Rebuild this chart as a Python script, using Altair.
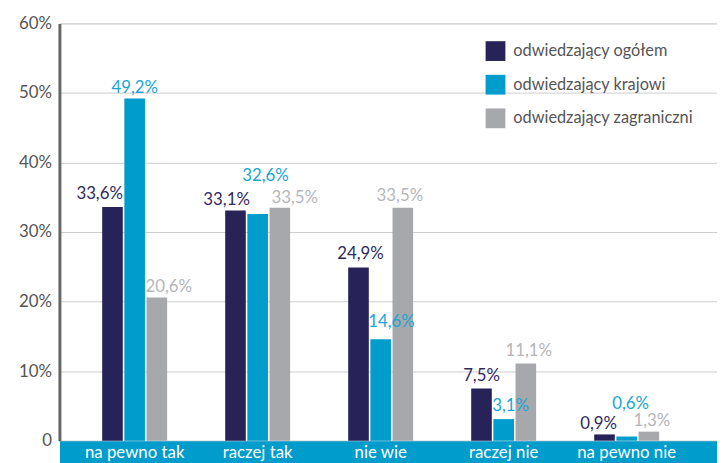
import altair as alt
import pandas as pd

categories = ["na pewno tak", "raczej tak", "nie wie", "raczej nie", "na pewno nie"]
series = ["odwiedzający ogółem", "odwiedzający krajowi", "odwiedzający zagraniczni"]
ogolem = [33.6, 33.1, 24.9, 7.5, 0.9]
krajowi = [49.2, 32.6, 14.6, 3.1, 0.6]
zagraniczni = [20.6, 33.5, 33.5, 11.1, 1.3]
y_ticks = [0, 10, 20, 30, 40, 50, 60]

bar_colors = ["#272257", "#009ccc", "#a7a8ac"]
label_colors = ["#2f2a5e", "#1ba5d5", "#b5b6b9"]

# label nudges in pixels (horizontal shift, gap above bar top)
label_dx = [[-13, -9, 2, 0, -6], [0, 8, 11, 7, 4], [12, 15, -3, 3, 3]]
label_gap = [[8, 6, 9, 8, 5], [6, 33, 12, 8, 28], [5, 5, 7, 8, 6]]

rows = []
for s_i, vals in enumerate([ogolem, krajowi, zagraniczni]):
    for c_i, v in enumerate(vals):
        rows.append({
            "category": categories[c_i],
            "series": series[s_i],
            "value": v,
            "label": f"{v:.1f}".replace(".", ",") + "%",
            "k": s_i * 10 + c_i,
        })
df = pd.DataFrame(rows)

FONT = "Lato"
x_scale = alt.Scale(paddingInner=0.472, paddingOuter=0.409, align=0.425)

y_enc = alt.Y(
    "value:Q",
    scale=alt.Scale(domain=[0, 60], nice=False),
    axis=alt.Axis(
        values=y_ticks, title=None,
        labelExpr="datum.value == 0 ? '0' : datum.value + '%'",
        domainColor="#666666", domainWidth=3, ticks=False,
        gridColor="#cccccc", gridWidth=1, labelFontSize=17,
        labelColor="#555555", labelPadding=8, labelFont=FONT,
    ),
)

base = alt.Chart(df)

# bars; their x axis is only the cyan band
bars = base.mark_bar().encode(
    x=alt.X(
        "category:N", sort=categories, scale=x_scale,
        axis=alt.Axis(
            title=None, labels=False, ticks=False, grid=False, orient="bottom",
            domainColor="#009ccc", domainWidth=22, domainCap="butt",
            offset=11, zindex=1,
        ),
    ),
    xOffset=alt.XOffset("series:N", sort=series, scale=alt.Scale(paddingInner=0.07)),
    y=y_enc,
    color=alt.Color(
        "series:N",
        sort=series,
        scale=alt.Scale(domain=series, range=bar_colors),
        legend=alt.Legend(
            title=None, orient="none", legendX=431, legendY=18,
            symbolType="square", symbolSize=400, symbolStrokeWidth=0,
            labelFontSize=16.5, labelColor="#555555", labelFont=FONT,
            rowPadding=14, labelOffset=8, labelLimit=400,
        ),
    ),
)

layers = [bars]
first = True
for s_i in range(3):
    for c_i in range(5):
        k = s_i * 10 + c_i
        if first:
            x_axis = alt.Axis(
                title=None, labelAngle=0, domain=False, ticks=False, grid=False,
                orient="bottom", offset=11, labelColor="white", labelFontSize=17,
                labelBaseline="middle", labelPadding=1, labelFont=FONT, zindex=2,
            )
            first = False
        else:
            x_axis = None
        t = base.transform_filter(alt.datum.k == k).mark_text(
            fontSize=17, font=FONT, baseline="alphabetic", align="center",
            dx=label_dx[s_i][c_i], dy=-label_gap[s_i][c_i],
            color=label_colors[s_i],
        ).encode(
            x=alt.X("category:N", sort=categories, axis=x_axis),
            xOffset=alt.XOffset("series:N", sort=series),
            y=alt.Y("value:Q"),
            text="label:N",
        )
        layers.append(t)

chart = alt.layer(*layers).resolve_axis(x="independent", y="shared").properties(
    width=665, height=422,
    autosize=alt.AutoSizeParams(type="none"),
    padding={"left": 52, "top": 13, "right": 0, "bottom": 20},
).configure_view(stroke=None).configure(background="white")

chart.save("out.html", embed_options={"renderer": "svg", "actions": False})
